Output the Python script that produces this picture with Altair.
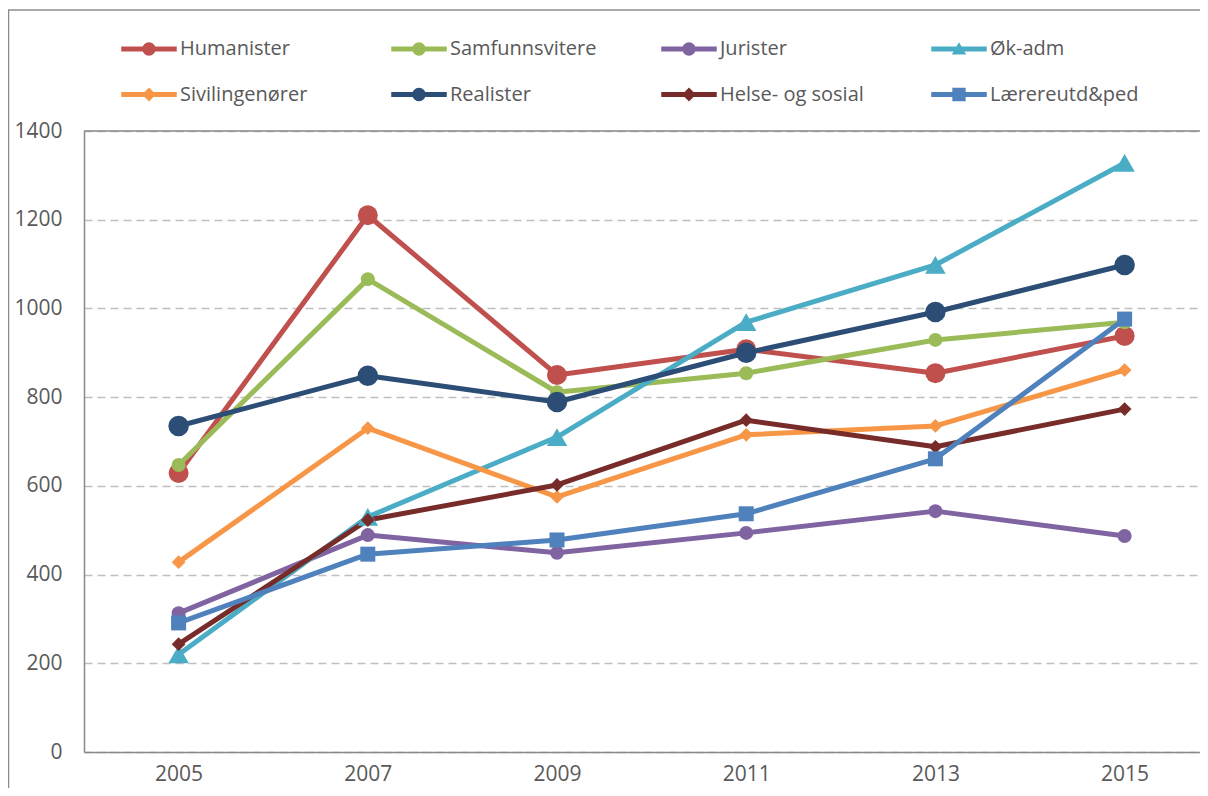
import altair as alt
import pandas as pd

years = [2005, 2007, 2009, 2011, 2013, 2015]
series = ["Humanister", "Samfunnsvitere", "Jurister", "Øk-adm",
          "Sivilingenører", "Realister", "Helse- og sosial", "Lærereutd&ped"]

humanister = [629, 1210, 850, 908, 854, 938]
samfunnsvitere = [647, 1066, 811, 854, 929, 969]
jurister = [313, 489, 449, 494, 543, 487]
ok_adm = [220, 530, 710, 969, 1098, 1328]
sivilingenorer = [428, 730, 575, 715, 735, 861]
realister = [735, 848, 789, 900, 992, 1098]
helse_sosial = [243, 523, 602, 748, 688, 773]
larerutd = [291, 446, 478, 537, 661, 976]

values = [humanister, samfunnsvitere, jurister, ok_adm,
          sivilingenorer, realister, helse_sosial, larerutd]

colors = ["#C0504D", "#9BBB59", "#8064A2", "#4BACC6",
          "#F79646", "#2C4D75", "#772C2A", "#4F81BD"]

rows = []
for s, vals in zip(series, values):
    for y, v in zip(years, vals):
        rows.append({"Serie": s, "År": y, "Verdi": v})
df = pd.DataFrame(rows)

FONT = "Open Sans"
TXT = "#595959"
AXC = "#898989"

# legend symbols: line + marker (custom paths in [-1,1] box)
bar = "M-1,-0.09H1V0.09H-1Z"
circ = "M-0.24,0A0.24,0.24 0 1,1 0.24,0A0.24,0.24 0 1,1 -0.24,0Z"
diam = "M0,-0.25L0.25,0L0,0.25L-0.25,0Z"
tri = "M0,-0.24L0.26,0.2L-0.26,0.2Z"
sq = "M-0.24,-0.24H0.24V0.24H-0.24Z"
legend_paths = [bar + circ, bar + circ, bar + circ, bar + tri,
                bar + diam, bar + circ, bar + diam, bar + sq]

marker_style = {
    "Humanister": ("circle", 400),
    "Samfunnsvitere": ("circle", 196),
    "Jurister": ("circle", 196),
    "Øk-adm": ("triangle-up", 420),
    "Sivilingenører": ("diamond", 190),
    "Realister": ("circle", 420),
    "Helse- og sosial": ("diamond", 190),
    "Lærereutd&ped": ("square", 225),
}

W, H = 1116, 621

color_scale = alt.Scale(domain=series, range=colors)
leg = alt.Legend(
    title=None, orient="none", legendX=37, legendY=-110, columns=4,
    direction="horizontal", symbolSize=3080, symbolStrokeWidth=0,
    symbolOpacity=1, labelFont=FONT, labelFontSize=20, labelColor=TXT,
    labelOffset=3, gridAlign="all", columnPadding=62, rowPadding=7.5,
    labelLimit=400,
)
color_enc = alt.Color("Serie:N", scale=color_scale, legend=leg)

x_enc = alt.X("År:Q",
              scale=alt.Scale(domain=[2004.0, 2015.797], nice=False, zero=False),
              axis=alt.Axis(values=years, format="d", title=None, grid=False,
                            ticks=False, domain=True, domainColor=AXC,
                            domainWidth=1.5, labelPadding=11,
                            labelFlush=False, labelFont=FONT, labelFontSize=21,
                            labelColor=TXT))
y_enc = alt.Y("Verdi:Q",
              scale=alt.Scale(domain=[0, 1400], nice=False),
              axis=alt.Axis(values=list(range(0, 1401, 200)), format="d",
                            title=None, ticks=False, domain=True,
                            domainColor=AXC, domainWidth=1.5,
                            labelPadding=22, labelFont=FONT, labelFontSize=21,
                            labelColor=TXT,
                            grid=True, gridDash=[8, 5], gridColor="#BFBFBF",
                            gridWidth=1.5))

base = alt.Chart(df)

lines = base.mark_line(strokeWidth=5, strokeJoin="round", strokeCap="round").encode(
    x=x_enc, y=y_enc, color=color_enc, order=alt.Order("År:Q"))

point_layers = []
for s in series:
    shp, sz = marker_style[s]
    point_layers.append(
        base.transform_filter(alt.datum.Serie == s)
        .mark_point(shape=shp, size=sz, filled=True, opacity=1, strokeWidth=0)
        .encode(x=x_enc, y=y_enc, color=color_enc)
    )

legend_layer = base.transform_filter("datum.Verdi < 0").mark_point(
    filled=True, opacity=1).encode(
    x=x_enc, y=y_enc, color=color_enc,
    shape=alt.Shape("Serie:N", scale=alt.Scale(domain=series, range=legend_paths),
                    legend=leg))

frame_df = pd.DataFrame({"k": [0]})
frame_left = alt.Chart(frame_df).mark_rule(color="#8C8C8C", strokeWidth=1.5).encode(
    x=alt.value(-75.5), y=alt.value(-121), y2=alt.value(700))
frame_top = alt.Chart(frame_df).mark_rule(color="#8C8C8C", strokeWidth=1.5).encode(
    x=alt.value(-76), x2=alt.value(1200), y=alt.value(-121))
plot_top = alt.Chart(frame_df).mark_rule(color=AXC, strokeWidth=1.5).encode(
    x=alt.value(0), x2=alt.value(1200), y=alt.value(0))

chart = alt.layer(frame_left, frame_top, plot_top, lines, *point_layers,
                  legend_layer).properties(
    width=W, height=H,
    autosize=alt.AutoSizeParams(type="none"),
    padding={"left": 76, "top": 123, "right": 0, "bottom": 36},
).configure(
    background="white"
).configure_view(
    strokeWidth=0
)

chart.save("out.html", embed_options={"renderer": "svg", "actions": False})
